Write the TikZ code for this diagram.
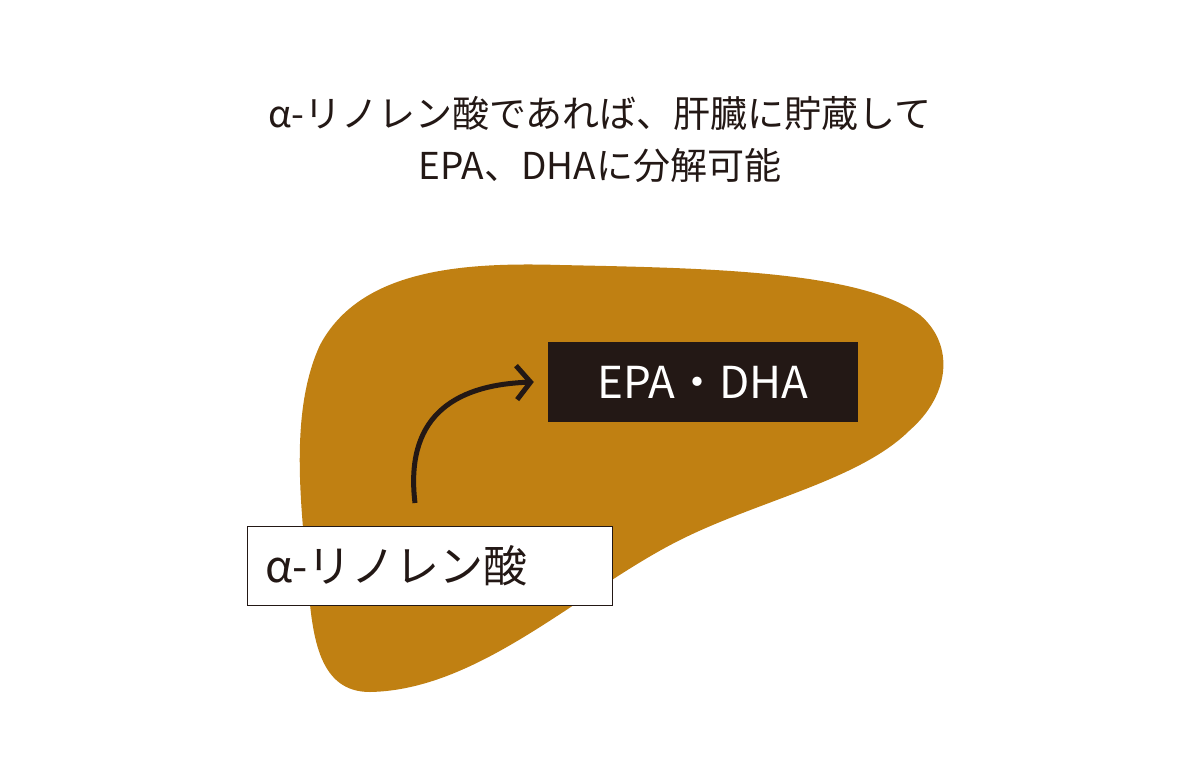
\documentclass[tikz,border=0pt]{standalone}
\usepackage{fontspec}
\setmainfont{Noto Sans CJK JP}
\usetikzlibrary{arrows.meta,positioning}
\definecolor{liver}{HTML}{C08012}
\definecolor{ink}{HTML}{231815}
\begin{document}
\begin{tikzpicture}[
      x=1pt,y=-1pt,
      lbl/.style={font=\fontsize{37}{44}\selectfont,text=ink},
      >={Straight Barb[length=14pt,width=34pt,line width=5pt]}
    ]
    \useasboundingbox (0,0) rectangle (1200,766);
    % Title
    \node[lbl] (t1) at (600,113) {α-リノレン酸であれば、肝臓に貯蔵して};
    \node[lbl] (t2) at (600,166) {EPA、DHAに分解可能};

    % Liver
    \fill[liver] (320,345) .. controls (360,270) and (460,262) .. (560,265)
      .. controls (700,268) and (860,270) .. (920,315)
      .. controls (955,345) and (950,395) .. (910,430)
      .. controls (860,480) and (760,500) .. (680,540)
      .. controls (580,590) and (480,690) .. (370,692)
      .. controls (320,692) and (312,640) .. (308,580)
      .. controls (300,500) and (290,410) .. (320,345) -- cycle;

    % Boxes
    \node[fill=ink,minimum width=310pt,minimum height=80pt,
      font=\fontsize{44}{48}\selectfont,text=white] (epa) at (703,382) {EPA・DHA};
    \node[draw=ink,line width=1.2pt,fill=white,minimum width=365pt,minimum height=79pt,
      font=\fontsize{44}{48}\selectfont,text=ink,text width=330pt,align=left] (ala) at (430,566) {α-リノレン酸};

    \coordinate (start) at (415,503);
    \draw[->,ink,line width=5pt] (start) .. controls (405,420) and (450,385) .. ([xshift=-14pt]epa.west);
  \end{tikzpicture}
\end{document}
